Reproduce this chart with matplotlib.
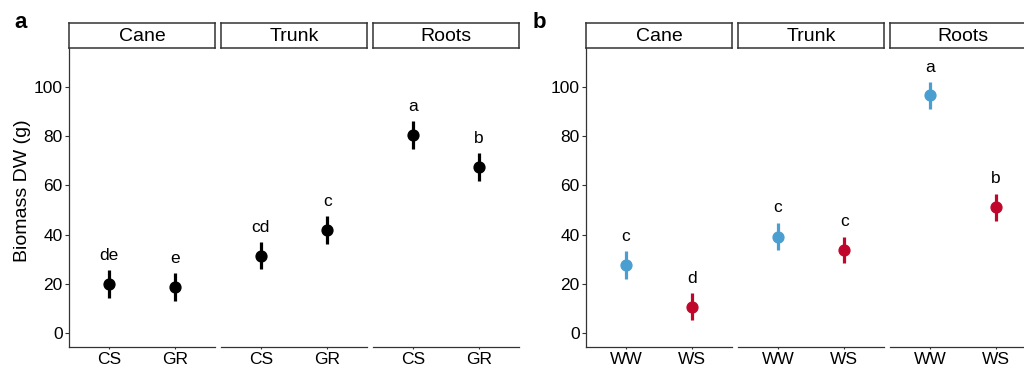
import matplotlib
matplotlib.use('Agg')
import matplotlib.pyplot as plt

plt.rcParams['font.family'] = ['Liberation Sans', 'DejaVu Sans']

organs = ['Cane', 'Trunk', 'Roots']

# panel a: genotype
a_groups = ['CS', 'GR']
a_mean = [[20.0, 18.7], [31.3, 41.9], [80.5, 67.5]]
a_err = [[5.6, 5.7], [5.5, 5.7], [5.7, 5.7]]
a_letters = [['de', 'e'], ['cd', 'c'], ['a', 'b']]

# panel b: water treatment
b_groups = ['WW', 'WS']
b_mean = [[27.6, 10.7], [39.2, 33.7], [96.5, 51.1]]
b_err = [[5.6, 5.5], [5.6, 5.4], [5.5, 5.5]]
b_letters = [['c', 'd'], ['c', 'c'], ['a', 'b']]

W, H = 1024, 369
fig = plt.figure(figsize=(W / 100, H / 100), dpi=100)

line_col = '#333333'


def px(x0, y_top, w, h):
    return [x0 / W, 1 - (y_top + h) / H, w / W, h / H]


def draw_panel(lefts, groups, means, errs, letters, colors, tag, tag_x):
    for k, organ in enumerate(organs):
        ax = fig.add_axes(px(lefts[k], 48, 146, 299))
        xs = list(range(len(groups)))
        for i in xs:
            ax.errorbar(i, means[k][i], yerr=errs[k][i], fmt='o', color=colors[i],
                        ms=7.8, elinewidth=2.3, capsize=0, zorder=3)
            ax.text(i, means[k][i] + errs[k][i] + 6, letters[k][i], ha='center',
                    va='center', fontsize=12.5, color='black')
        ax.set_xlim(-0.6, len(groups) - 0.4)
        ax.set_ylim(-5.7, 115.8)
        ax.set_xticks(xs)
        ax.set_xticklabels(groups, fontsize=12.5)
        ax.tick_params(axis='x', length=1.5, width=0.8, color=line_col, pad=2)
        for s in ['top', 'right']:
            ax.spines[s].set_visible(False)
        ax.spines['bottom'].set_color(line_col)
        ax.spines['bottom'].set_linewidth(0.9)
        if k == 0:
            ax.set_yticks([0, 20, 40, 60, 80, 100])
            ax.tick_params(axis='y', labelsize=12.5, length=3, width=0.8,
                           color=line_col, pad=1.5)
            ax.spines['left'].set_color(line_col)
            ax.spines['left'].set_linewidth(0.9)
        else:
            ax.spines['left'].set_visible(False)
            ax.set_yticks([])

        sax = fig.add_axes(px(lefts[k], 22.5, 146, 25.5))
        sax.set_xticks([])
        sax.set_yticks([])
        for s in sax.spines.values():
            s.set_color(line_col)
            s.set_linewidth(1.1)
        sax.text(0.5, 0.47, organ, ha='center', va='center', fontsize=14,
                 transform=sax.transAxes)

    fig.text(tag_x / W, 1 - 27.5 / H, tag, fontsize=16, fontweight='bold',
             ha='left', va='baseline')


draw_panel([69, 221, 373], a_groups, a_mean, a_err, a_letters,
           ['black', 'black'], 'a', 14)
draw_panel([586, 738, 890], b_groups, b_mean, b_err, b_letters,
           ['#4a9fd0', '#c0062b'], 'b', 533)

fig.text(23 / W, 1 - 191 / H, 'Biomass DW (g)', rotation=90, fontsize=14,
         ha='center', va='center')

fig.savefig('out.png', dpi=100)
